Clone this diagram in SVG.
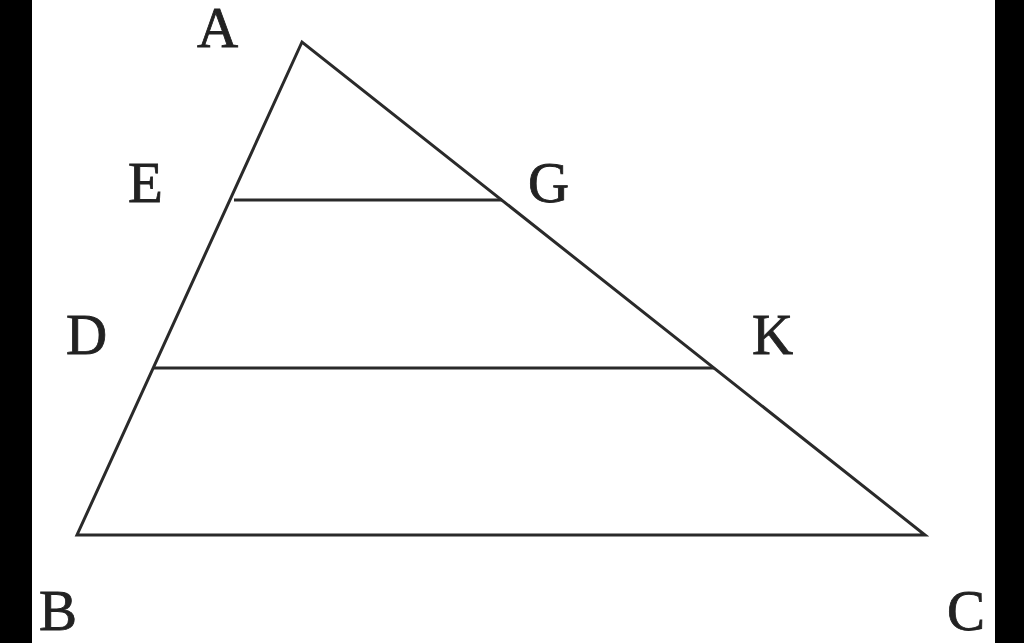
<svg xmlns="http://www.w3.org/2000/svg" width="1024" height="643" viewBox="0 0 1024 643">
<style>
.ln{stroke:#2a2a2a;stroke-width:3;fill:none;stroke-linejoin:miter}
.lb{font-family:"Liberation Serif","DejaVu Serif",serif;font-size:57px;fill:#222;stroke:#222;stroke-width:0.8}
</style>
<rect x="0" y="0" width="1024" height="643" fill="#fff"/>
<rect x="0" y="0" width="32" height="643" fill="#000"/>
<rect x="995" y="0" width="29" height="643" fill="#000"/>
<g id="connectors">
<polygon class="ln" points="302,42 77,535 925,535"/>
<line class="ln" x1="234" y1="200" x2="502" y2="200"/>
<line class="ln" x1="153" y1="368" x2="714" y2="368"/>
</g>
<g id="A"><text class="lb" x="197" y="47">A</text></g>
<g id="E"><text class="lb" x="128" y="202">E</text></g>
<g id="G"><text class="lb" x="528" y="202">G</text></g>
<g id="D"><text class="lb" x="66" y="354">D</text></g>
<g id="K"><text class="lb" x="752" y="354">K</text></g>
<g id="B"><text class="lb" x="39" y="630">B</text></g>
<g id="C"><text class="lb" x="947" y="630">C</text></g>
</svg>
